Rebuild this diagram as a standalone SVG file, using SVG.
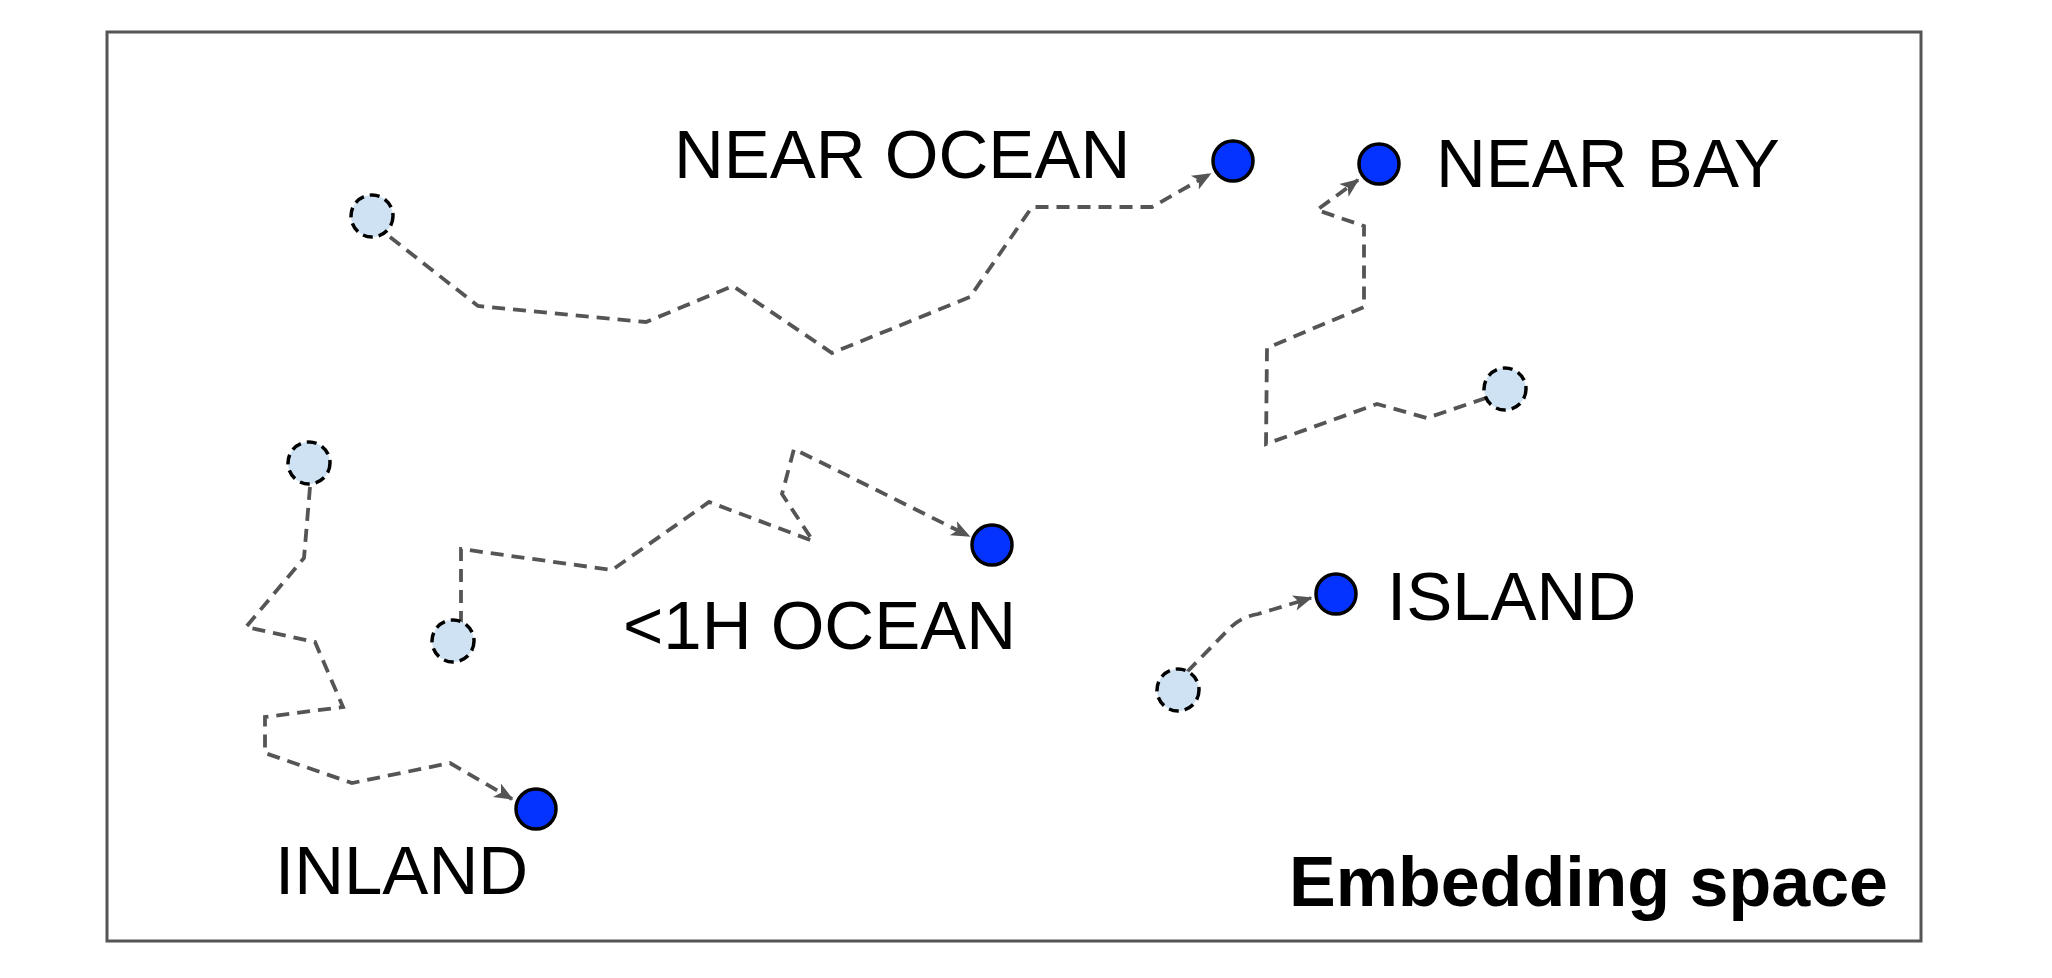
<svg xmlns="http://www.w3.org/2000/svg" width="2052" height="978" viewBox="0 0 2052 978">
<style>
.lbl{font-family:"Liberation Sans",Arial,sans-serif;font-size:69px;fill:#000}
.title{font-family:"Liberation Sans",Arial,sans-serif;font-size:70px;font-weight:bold;fill:#000}
.cat{fill:#0433ff;stroke:#000;stroke-width:3.5}
.pt{fill:#cfe2f3;stroke:#000;stroke-width:3.5;stroke-dasharray:10 6}
.conn{fill:none;stroke:#555;stroke-width:3.8;stroke-dasharray:13 8;marker-end:url(#arr)}
</style>
<defs>
<marker id="arr" viewBox="0 0 12 10" refX="11" refY="5" markerWidth="5" markerHeight="5" orient="auto" markerUnits="strokeWidth">
<path d="M0,0 L12,5 L0,10 L3,5 z" fill="#555"/>
</marker>
</defs>
<rect x="0" y="0" width="2052" height="978" fill="#fff"/>
<rect id="frame" x="107" y="32" width="1814" height="909" fill="#fff" stroke="#555" stroke-width="3"/>
<g id="connectors">
<polyline class="conn" points="390,237 478,306 646,322 733,286 832,353 970,297 1032,207 1152,207 1210,174"/>
<polyline class="conn" points="1486,398 1427,418 1377,404 1266,444 1267,348 1364,307 1364,226 1317,210 1358,180"/>
<polyline class="conn" points="310,487 304,558 246,627 315,642 343,707 265,717 265,753 352,783 450,763 512,799"/>
<polyline class="conn" points="461,624 461,549 612,570 709,502 813,541 782,494 794,449 969,536"/>
<path class="conn" d="M1187,672 L1228,630 Q1240,617 1258,614 L1311,598"/>
</g>
<g id="p1"><circle class="pt" cx="372" cy="216" r="21"/></g>
<g id="p2"><circle class="pt" cx="1505" cy="389" r="21"/></g>
<g id="p3"><circle class="pt" cx="309" cy="463" r="21"/></g>
<g id="p4"><circle class="pt" cx="453" cy="641" r="21"/></g>
<g id="p5"><circle class="pt" cx="1178" cy="690" r="21"/></g>
<g id="near-ocean"><circle class="cat" cx="1233" cy="161" r="20"/><text class="lbl" x="674" y="178">NEAR OCEAN</text></g>
<g id="near-bay"><circle class="cat" cx="1379" cy="164" r="20"/><text class="lbl" x="1436" y="187">NEAR BAY</text></g>
<g id="lt1h-ocean"><circle class="cat" cx="992" cy="545" r="20"/><text class="lbl" x="623" y="649">&lt;1H OCEAN</text></g>
<g id="island"><circle class="cat" cx="1336" cy="594" r="20"/><text class="lbl" x="1387" y="620">ISLAND</text></g>
<g id="inland"><circle class="cat" cx="536" cy="809" r="20"/><text class="lbl" x="275" y="894">INLAND</text></g>
<g id="title"><text class="title" x="1289" y="906">Embedding space</text></g>
</svg>
